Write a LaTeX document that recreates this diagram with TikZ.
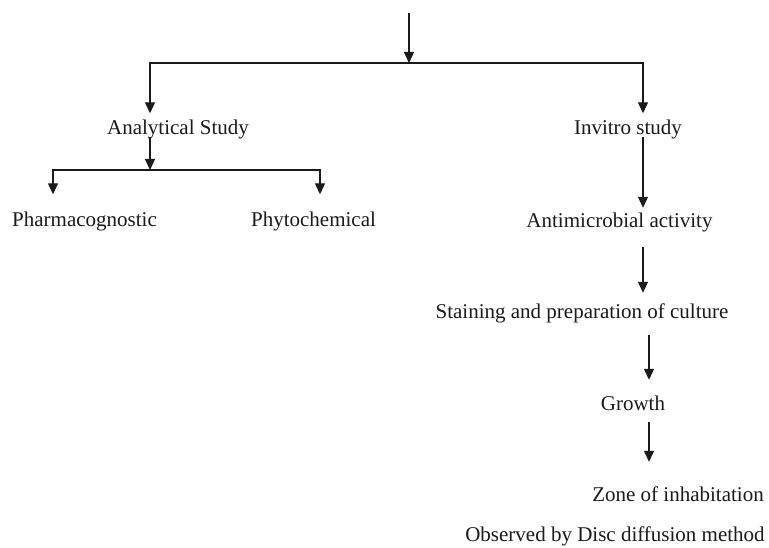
\documentclass[tikz,border=0pt]{standalone}
\usepackage{fontspec}
\setmainfont{Liberation Serif}
\usetikzlibrary{arrows.meta,calc}
\definecolor{ink}{HTML}{1A1A1A}

\begin{document}
\begin{tikzpicture}[
  x=1pt,y=1pt,font=\fontsize{21}{24}\selectfont,
  stage/.style={inner sep=0pt,text height=17pt,text depth=2pt,text=ink},
  flow/.style={draw=ink,line width=1.2pt,-{Triangle[length=11pt,width=10pt]}}
]
\path[use as bounding box] (0,0) rectangle (769,-548);
% two branches under the top arrow
\node[stage] (ana) at (178,-127.5) {Analytical Study};
\node[stage] (inv) at (628,-127.5) {Invitro study};
\coordinate (src) at (409,-13);
\coordinate (fork) at (409,-63);
\draw[flow] (src) -- (fork);
\draw[flow] (fork) -| ($(ana.north)+(-28,4.5)$);
\draw[flow] (fork) -| ($(inv.north)+(15,4.5)$);

% analytical side
\node[stage] (pharm) at (84.5,-219.5) {Pharmacognostic};
\node[stage] (phyto) at (313.5,-219.5) {Phytochemical};
\coordinate (split) at (150,-170);
\draw[flow] (ana.south -| split) -- (split);
\draw[flow] (split) -| ($(pharm.north)+(-31.5,15.5)$);
\draw[flow] (split) -| ($(phyto.north)+(6.5,15.5)$);

% invitro side
\node[stage] (anti) at (619.5,-220) {Antimicrobial activity};
\node[stage] (stain) at (582,-311) {Staining and preparation of culture};
\node[stage] (growth) at (633,-403) {Growth};
\node[stage] (zone) at (678,-494) {Zone of inhabitation};
\node[stage] (obs) at (615,-533.5) {Observed by Disc diffusion method};
\draw[flow] ($(inv.south)+(15,0)$) -- ($(anti.north)+(23.5,2.5)$);
\draw[flow] ($(anti.south)+(23.5,-17.5)$) -- ($(stain.north)+(61,8.5)$);
\draw[flow] ($(stain.south)+(67,-14.5)$) -- ($(growth.north)+(16,13.5)$);
\draw[flow] ($(growth.south)+(16,-9.5)$) -- ($(zone.north)+(-29,22.5)$);
\end{tikzpicture}
\end{document}
